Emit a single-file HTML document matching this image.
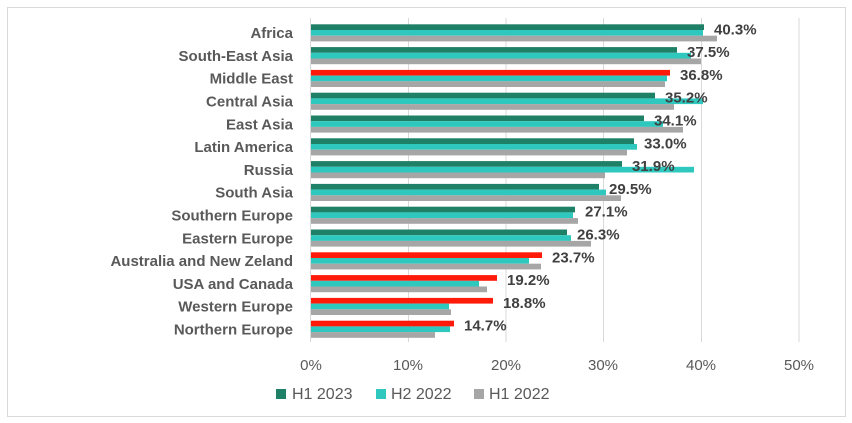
<!DOCTYPE html>
<html><head><meta charset="utf-8"><style>
html,body{margin:0;padding:0;background:#fff;}
svg{display:block;font-family:"Liberation Sans",sans-serif;}
</style></head><body>
<svg width="852" height="423" viewBox="0 0 852 423" xmlns="http://www.w3.org/2000/svg">
<rect x="7.5" y="7.5" width="838" height="409" fill="#fff" stroke="#d9d9d9" stroke-width="1"/>
<g stroke="#d9d9d9" stroke-width="1">
<line x1="310.5" y1="18" x2="310.5" y2="342"/>
<line x1="408.5" y1="18" x2="408.5" y2="342"/>
<line x1="506" y1="18" x2="506" y2="342"/>
<line x1="603.5" y1="18" x2="603.5" y2="342"/>
<line x1="701.5" y1="18" x2="701.5" y2="342"/>
<line x1="799" y1="18" x2="799" y2="342"/>
</g>
<g id="bars"></g>
<g font-size="15" font-weight="bold" fill="#595959" text-anchor="end" id="cats"></g>
<g font-size="15" font-weight="bold" fill="#404040" id="vals"></g>
<g font-size="15" fill="#595959" text-anchor="middle">
<text x="311" y="370">0%</text><text x="408" y="370">10%</text><text x="506" y="370">20%</text>
<text x="603" y="370">30%</text><text x="701" y="370">40%</text><text x="799" y="370">50%</text>
</g>
<g font-size="16" fill="#595959">
<rect x="276" y="389" width="10" height="10" fill="#1e8066"/><text x="292" y="399">H1 2023</text>
<rect x="376" y="389" width="10" height="10" fill="#2ec8be"/><text x="391" y="399">H2 2022</text>
<rect x="474" y="389" width="10" height="10" fill="#a6a6a6"/><text x="489" y="399">H1 2022</text>
</g>
<script>
var d=[["Africa",704,703,717,"40.3%",0],["South-East Asia",677,691,701,"37.5%",0],["Middle East",670,667,665,"36.8%",1],
["Central Asia",655,703,674,"35.2%",0],["East Asia",644,663,683,"34.1%",0],["Latin America",634,637,627,"33.0%",0],
["Russia",622,694,605,"31.9%",0],["South Asia",599,606,621,"29.5%",0],["Southern Europe",575,573,578,"27.1%",0],
["Eastern Europe",567,571,591,"26.3%",0],["Australia and New Zeland",542,529,541,"23.7%",1],["USA and Canada",497,479,487,"19.2%",1],
["Western Europe",493,449,451,"18.8%",1],["Northern Europe",454,450,435,"14.7%",1]];
var ns="http://www.w3.org/2000/svg",b=document.getElementById("bars"),c=document.getElementById("cats"),v=document.getElementById("vals");
function r(x,y,w,h,f){var e=document.createElementNS(ns,"rect");e.setAttribute("x",x);e.setAttribute("y",y);e.setAttribute("width",w);e.setAttribute("height",h);e.setAttribute("fill",f);b.appendChild(e);}
function t(g,x,y,s){var e=document.createElementNS(ns,"text");e.setAttribute("x",x);e.setAttribute("y",y);e.textContent=s;g.appendChild(e);}
d.forEach(function(a,i){var y=24.3+i*22.8;
r(311,y,a[1]-311,5.7,a[5]?"#ff1a0a":"#1e8066");
r(311,y+5.7,a[2]-311,5.7,"#2ec8be");
r(311,y+11.4,a[3]-311,5.7,"#a6a6a6");
t(c,293,y+13.8,a[0]);
t(v,a[1]+10,y+10,a[4]);});
</script>
</svg>
</body></html>
